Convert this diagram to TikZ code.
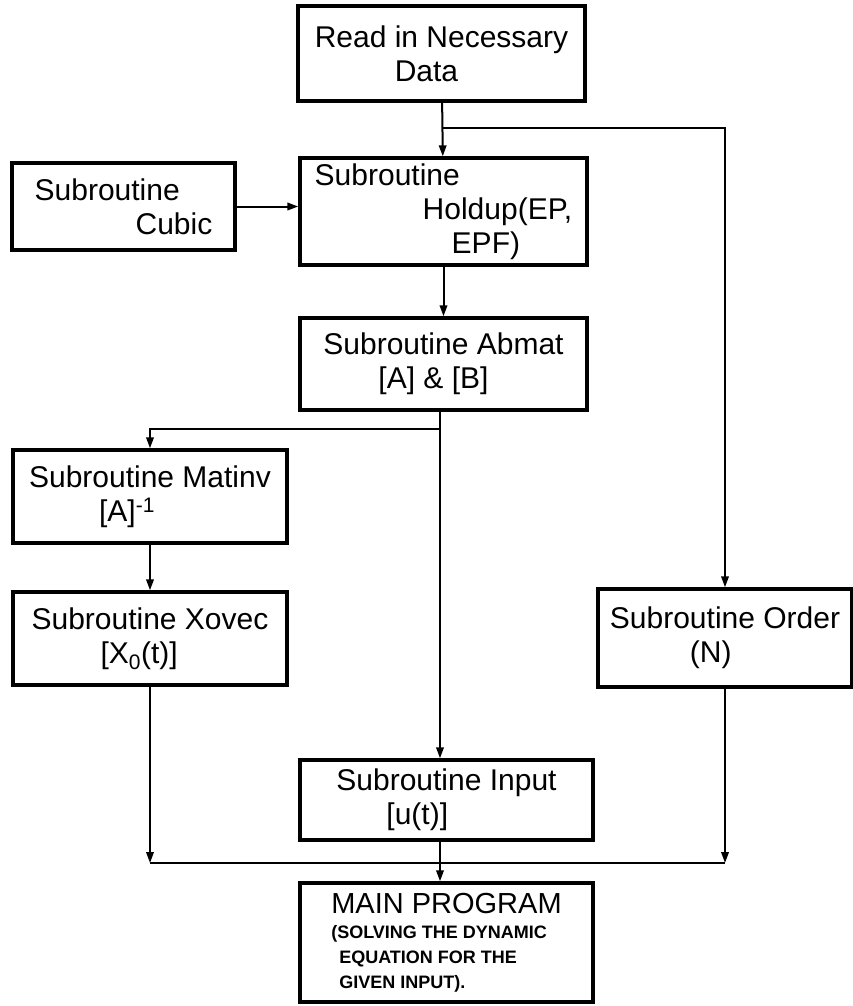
\documentclass[tikz,border=0pt]{standalone}
\usepackage{fontspec}
\setmainfont{Liberation Sans}
\usetikzlibrary{arrows.meta,calc}
\tikzset{
    sub/.style={rectangle,draw,line width=3.4pt,align=left,inner sep=2pt,font=\fontsize{30}{34}\selectfont},
    edge/.style={-{Triangle[length=11pt,width=7.5pt]},line width=2pt},
    wire/.style={line width=2pt},
}
\newcommand{\ind}[1]{\hspace*{#1pt}}

\begin{document}
\begin{tikzpicture}[x=1pt,y=-1pt]
\useasboundingbox (0,0) rectangle (853,1006);
\node[sub,minimum width=287pt,minimum height=95pt] (read) at (441.5,53.5) {Read in Necessary\\\ind{80}Data};
\node[sub,minimum width=223pt,minimum height=87pt] (cubic) at (123.5,206.5) {Subroutine\\\ind{101}Cubic};
\node[sub,minimum width=287pt,minimum height=107pt] (holdup) at (443.5,211.5) {Subroutine\\\ind{108}Holdup(EP,\\\ind{137}EPF)};
\node[sub,minimum width=287pt,minimum height=92pt] (abmat) at (443.5,364) {Subroutine Abmat\\\ind{55}[A] \& [B]};
\node[sub,minimum width=274pt,minimum height=93pt] (matinv) at (150,496.5) {Subroutine Matinv\\\ind{70}[A]\textsuperscript{-1}};
\node[sub,minimum width=274pt,minimum height=93pt] (xovec) at (150,638.5) {Subroutine Xovec\\\ind{69}[X\textsubscript{0}(t)]};
\node[sub,minimum width=254pt,minimum height=98pt] (order) at (725,638) {Subroutine Order\\\ind{80}(N)};
\node[sub,minimum width=293pt,minimum height=80pt] (input) at (446.5,800) {Subroutine Input\\\ind{50}[u(t)]};
\node[sub,minimum width=293pt,minimum height=119pt,font=\fontsize{18}{25}\selectfont\bfseries] (main) at (446.5,942.5)
    {{\fontsize{29}{30}\selectfont\mdseries MAIN PROGRAM}\\(SOLVING THE DYNAMIC\\\ind{8}EQUATION FOR THE\\\ind{8}GIVEN INPUT).};

% junctions
\coordinate (top) at (441.5,128);
\coordinate (mid) at (440,429);
\coordinate (bot) at (440,863);

\draw[edge] (read) -- (holdup);
\draw[edge] (top) -| (order.north);
\draw[edge] (cubic.east) -- (cubic.east -| holdup.west);
\draw[edge] (holdup) -- (abmat);
\draw[wire] (abmat.south -| mid) -- (mid);
\draw[edge] (mid) -| (matinv.north);
\draw[edge] (mid) -- (mid |- input.north);
\draw[edge] (matinv) -- (xovec);
\draw[edge] (xovec.south) -- (xovec.south |- bot);
\draw[edge] (order.south) -- (order.south |- bot);
\draw[wire] (xovec.south |- bot) -- (order.south |- bot);
\draw[edge] (input.south -| bot) -- (main.north -| bot);
\end{tikzpicture}
\end{document}
